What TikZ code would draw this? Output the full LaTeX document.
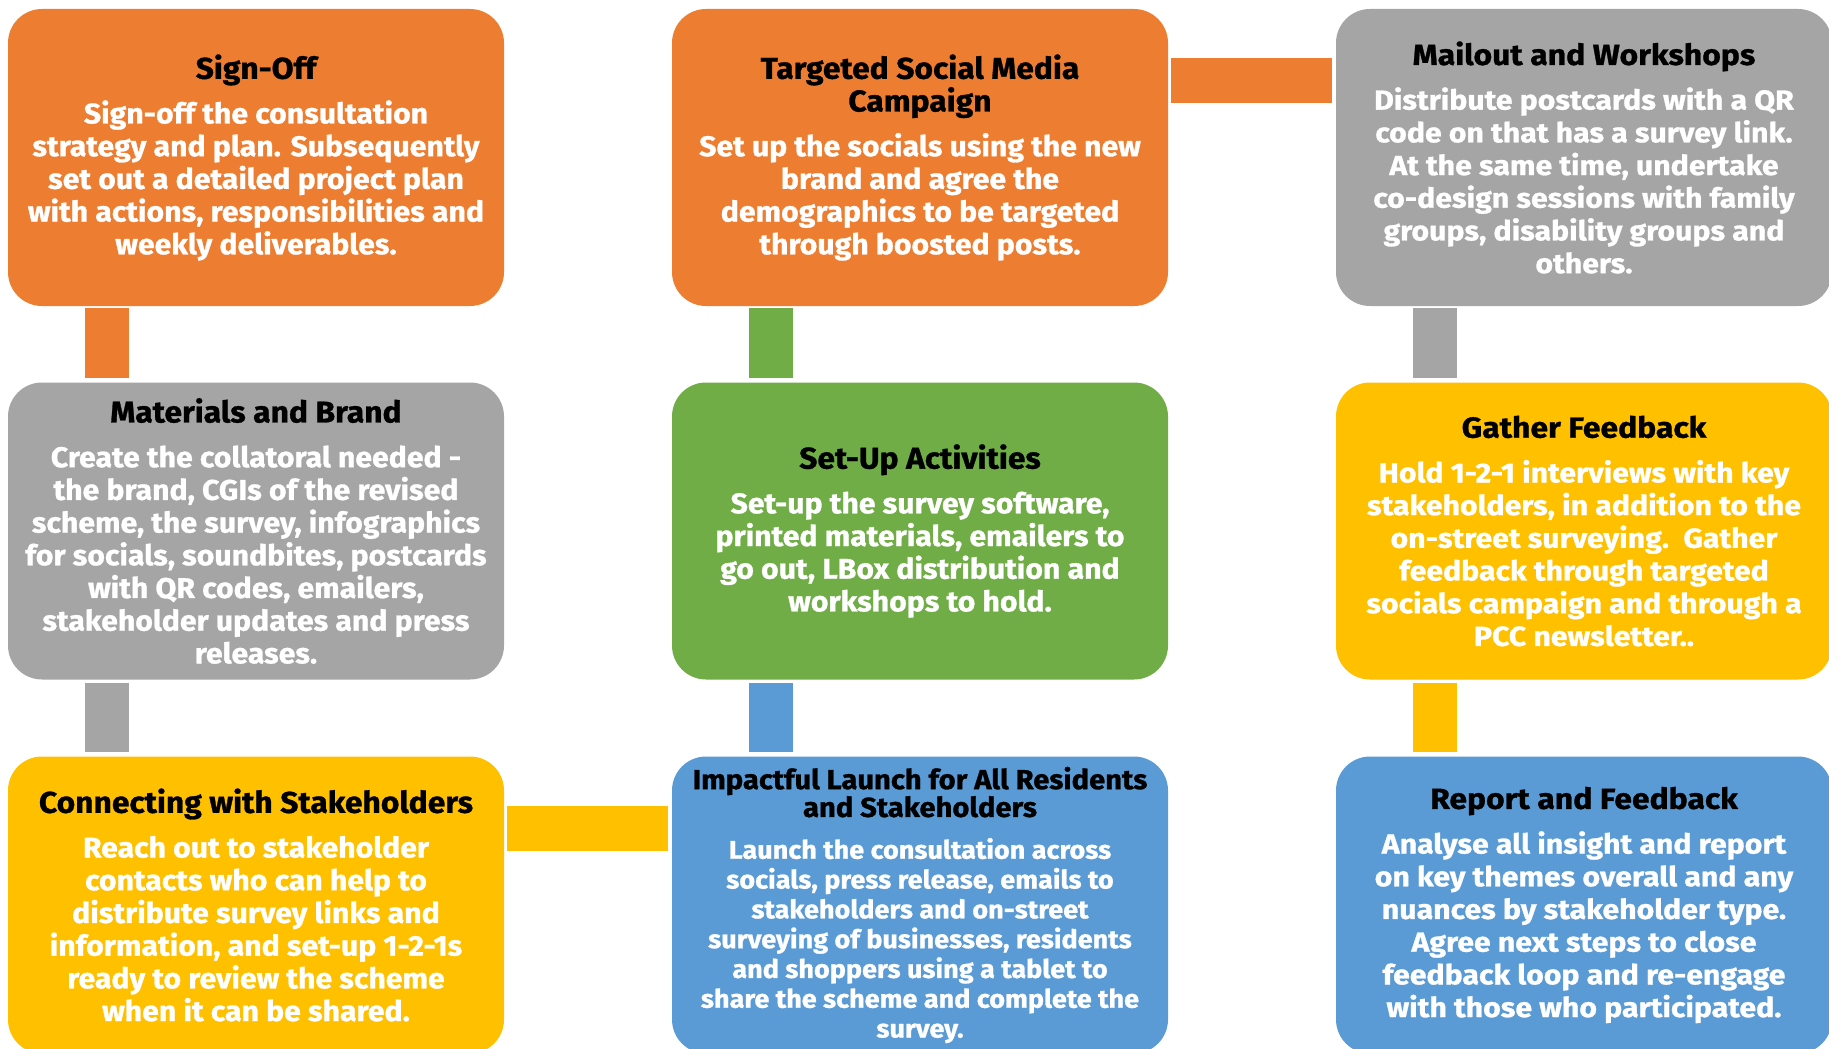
\documentclass[tikz,border=0pt]{standalone}
\usepackage{fontspec}
\setmainfont{Fira Sans}
\newfontfamily\condf{Fira Sans}[FakeStretch=1.06,FakeBold=1]
\newfontfamily\widef{Fira Sans}[FakeStretch=1.1,FakeBold=1]
\definecolor{cOr}{HTML}{ED7D31}
\definecolor{cGy}{HTML}{A5A5A5}
\definecolor{cGn}{HTML}{70AD47}
\definecolor{cYl}{HTML}{FFC000}
\definecolor{cBl}{HTML}{5B9BD5}
\tikzset{
  box/.style={rounded corners=34pt, minimum width=496pt, minimum height=297pt,
    inner sep=0pt, align=center, text=white, fill=#1},
  condtext/.style={font=\condf\bfseries\fontsize{28.5}{32.7}\selectfont\def\tfs{30}},
  widetext/.style={font=\widef\bfseries\fontsize{27.5}{32.7}\selectfont\def\tfs{29}},
  smalltext/.style={font=\condf\bfseries\fontsize{25.5}{29.8}\selectfont\def\tfs{27.5}},
  vconn/.style={line width=44pt, draw=#1},
  hconn/.style={line width=45pt, draw=#1},
}
\newcommand{\tline}[1]{{\color{black}\fontsize{\tfs}{32.7}\selectfont#1}}
\newcommand{\ttl}[1]{\tline{#1}\\[12pt]}
\begin{document}
\begin{tikzpicture}[x=1pt,y=-1pt]
\useasboundingbox (0,0) rectangle (1829,1049);
% row 1
\node[box=cOr, condtext] (b1) at (256,157.5) {\ttl{Sign-Off}Sign-off the consultation\\strategy and plan. Subsequently\\set out a detailed project plan\\with actions, responsibilities and\\weekly deliverables.};
\node[box=cOr, condtext] (b2) at (920,157.5) {\tline{Targeted Social Media}\\\ttl{Campaign}Set up the socials using the new\\brand and agree the\\demographics to be targeted\\through boosted posts.};
\node[box=cGy, widetext] (b3) at (1584,157.5) {\ttl{Mailout and Workshops}Distribute postcards with a QR\\code on that has a survey link.\\At the same time, undertake\\co-design sessions with family\\groups, disability groups and\\others.};
% row 2
\node[box=cGy, condtext] (b4) at (256,531) {\ttl{Materials and Brand}Create the collatoral needed -\\the brand, CGIs of the revised\\scheme, the survey, infographics\\for socials, soundbites, postcards\\with QR codes, emailers,\\stakeholder updates and press\\releases.};
\node[box=cGn, condtext] (b5) at (920,531) {\ttl{Set-Up Activities}Set-up the survey software,\\printed materials, emailers to\\go out, LBox distribution and\\workshops to hold.};
\node[box=cYl, widetext] (b6) at (1584,531) {\ttl{Gather Feedback}Hold 1-2-1 interviews with key\\stakeholders, in addition to the\\on-street surveying.\ \ Gather\\feedback through targeted\\socials campaign and through a\\PCC newsletter..};
% row 3
\node[box=cYl, condtext] (b7) at (256,905) {\ttl{Connecting with Stakeholders}Reach out to stakeholder\\contacts who can help to\\distribute survey links and\\information, and set-up 1-2-1s\\ready to review the scheme\\when it can be shared.};
\node[box=cBl, smalltext] (b8) at (920,905) {\tline{Impactful Launch for All Residents}\\[-2pt]\ttl{and Stakeholders}Launch the consultation across\\socials, press release, emails to\\stakeholders and on-street\\surveying of businesses, residents\\and shoppers using a tablet to\\share the scheme and complete the\\survey.};
\node[box=cBl, widetext] (b9) at (1584,905) {\ttl{Report and Feedback}Analyse all insight and report\\on key themes overall and any\\nuances by stakeholder type.\\Agree next steps to close\\feedback loop and re-engage\\with those who participated.};
% connectors
\draw[vconn=cOr] ([xshift=-149pt,yshift=-2pt]b1.south) -- ([xshift=-149pt,yshift=4pt]b4.north);
\draw[vconn=cGy] ([xshift=-149pt,yshift=-3pt]b4.south) -- ([xshift=-149pt,yshift=4pt]b7.north);
\draw[vconn=cGn] ([xshift=-149pt,yshift=4pt]b5.north) -- ([xshift=-149pt,yshift=-2pt]b2.south);
\draw[vconn=cBl] ([xshift=-149pt,yshift=4pt]b8.north) -- ([xshift=-149pt,yshift=-3pt]b5.south);
\draw[vconn=cGy] ([xshift=-149pt,yshift=-2pt]b3.south) -- ([xshift=-149pt,yshift=4pt]b6.north);
\draw[vconn=cYl] ([xshift=-149pt,yshift=-3pt]b6.south) -- ([xshift=-149pt,yshift=4pt]b9.north);
\draw[hconn=cOr] ([xshift=3pt,yshift=77pt]b2.east) -- ([xshift=-4pt,yshift=77pt]b3.west);
\draw[hconn=cYl] ([xshift=3pt,yshift=77pt]b7.east) -- ([xshift=-4pt,yshift=77pt]b8.west);
\end{tikzpicture}
\end{document}
